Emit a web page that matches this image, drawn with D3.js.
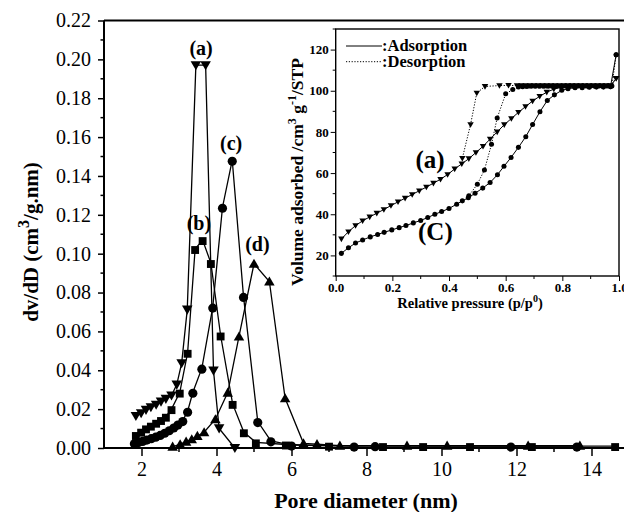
<!DOCTYPE html>
<html><head><meta charset="utf-8">
<script src="https://cdn.jsdelivr.net/npm/d3@7"></script>
<style>body{margin:0;background:#fff}svg{display:block}text{font-family:"Liberation Serif","Times New Roman",serif;fill:#000}</style>
</head><body><svg id="c" width="624" height="512"></svg>
<script>
// ---- main chart data: pore size distribution (x = pore diameter nm, y = dv/dD)
const seriesA = [[1.85,0.0165],[1.99,0.0179],[2.12,0.0196],[2.25,0.021],[2.39,0.0223],[2.52,0.0239],[2.65,0.0253],[2.80,0.027],[2.94,0.0326],[3.07,0.0436],[3.22,0.0712],[3.45,0.197],[3.71,0.197],[3.92,0.0398],[4.07,0.0101],[4.49,0.0]];
const seriesB = [[1.85,0.0067],[1.99,0.0084],[2.12,0.0101],[2.25,0.0115],[2.39,0.013],[2.52,0.0144],[2.65,0.0161],[2.80,0.020],[3.02,0.0285],[3.23,0.049],[3.43,0.1024],[3.63,0.107],[3.85,0.0952],[4.11,0.0579],[4.43,0.0227],[4.73,0.0081],[5.05,0.0029],[5.85,0.0018],[7.0,0.0012],[8.44,0.0010],[9.51,0.0010],[10.76,0.0010],[12.41,0.0010],[14.63,0.0010]];
const seriesC = [[1.81,0.0027],[1.92,0.0033],[2.03,0.0039],[2.14,0.0046],[2.26,0.0053],[2.38,0.0061],[2.50,0.007],[2.62,0.0081],[2.74,0.0094],[2.86,0.0108],[2.97,0.0123],[3.10,0.0141],[3.23,0.0189],[3.37,0.0287],[3.61,0.0411],[3.90,0.0725],[4.16,0.1239],[4.42,0.1481],[4.72,0.078],[5.10,0.0136],[5.45,0.0037],[6.0,0.0015],[7.67,0.0010],[8.23,0.0012],[11.85,0.0010],[13.61,0.0010]];
const seriesD = [[2.83,0.0007],[3.03,0.0019],[3.19,0.0033],[3.34,0.0045],[3.49,0.0062],[3.67,0.0081],[3.97,0.0148],[4.30,0.0285],[4.60,0.0574],[5.00,0.0948],[5.41,0.0857],[5.83,0.0256],[6.32,0.0024],[6.68,0.0020],[7.29,0.0012],[9.08,0.0012],[10.15,0.0012],[12.31,0.0012],[13.69,0.0012]];
const mainXTicks = [2,4,6,8,10,12,14];
const mainYTicks = [0,0.02,0.04,0.06,0.08,0.10,0.12,0.14,0.16,0.18,0.20,0.22];
const seriesLabels = [["(a)",3.59,0.2023],["(b)",3.53,0.112],["(c)",4.39,0.1534],["(d)",5.09,0.1014]];

// ---- inset data: N2 isotherms (x = p/p0, y = volume adsorbed)
const insetAAds = [[0.02,28],[0.045,31.5],[0.07,34.5],[0.095,36.8],[0.12,38.7],[0.145,40.5],[0.17,42.3],[0.195,44.2],[0.22,46],[0.245,47.8],[0.27,49.6],[0.295,51.4],[0.32,53.2],[0.345,55.1],[0.37,57],[0.395,59.3],[0.42,62],[0.445,64.5],[0.47,67],[0.495,70],[0.52,73],[0.545,76.5],[0.57,80],[0.595,83.5],[0.62,86.5],[0.645,89.5],[0.67,92.3],[0.695,95],[0.72,97.3],[0.745,99.3],[0.77,100.8],[0.795,101.7],[0.82,102],[0.845,102],[0.87,102],[0.895,102],[0.92,102],[0.945,102],[0.97,102.2],[0.99,106]];
const insetADes = [[0.99,106],[0.97,102.5],[0.955,102.5],[0.94,102.5],[0.925,102.5],[0.91,102.5],[0.895,102.5],[0.88,102.5],[0.865,102.5],[0.85,102.5],[0.835,102.5],[0.82,102.5],[0.805,102.5],[0.79,102.5],[0.775,102.5],[0.76,102.5],[0.745,102.5],[0.73,102.5],[0.715,102.5],[0.70,102.5],[0.685,102.5],[0.67,102.5],[0.655,102.5],[0.64,102.5],[0.61,102.6],[0.578,102.5],[0.527,102.1],[0.498,98.9],[0.476,83.6],[0.447,67.2]];
const insetCAds = [[0.02,21],[0.045,23.7],[0.07,26],[0.095,27.5],[0.122,29],[0.148,30.2],[0.171,31.2],[0.198,32.4],[0.224,33.5],[0.248,34.5],[0.274,35.8],[0.30,37],[0.325,38.4],[0.35,40],[0.374,41.3],[0.40,42.8],[0.427,44.9],[0.447,46.5],[0.468,48],[0.492,50.2],[0.519,52.7],[0.545,55.4],[0.571,59.2],[0.594,63.3],[0.619,67.6],[0.645,72.5],[0.671,77.7],[0.695,83.6],[0.721,89.8],[0.747,95.3],[0.772,98],[0.798,100.2],[0.82,101],[0.845,101.5],[0.87,101.5],[0.895,101.7],[0.92,101.8],[0.945,101.8],[0.97,102],[0.99,117.5]];
const insetCDes = [[0.99,117.5],[0.975,102.3],[0.96,102.3],[0.945,102.3],[0.93,102.3],[0.915,102.3],[0.90,102.3],[0.885,102.3],[0.87,102.3],[0.855,102.3],[0.84,102.3],[0.825,102.3],[0.81,102.3],[0.795,102.2],[0.78,102.2],[0.765,102.2],[0.75,102.2],[0.735,102.2],[0.72,102.2],[0.705,102.2],[0.69,102.2],[0.675,102.1],[0.66,102],[0.645,101.8],[0.625,100.6],[0.60,98.5],[0.57,86.8],[0.55,74],[0.525,61.5],[0.50,54.6],[0.47,49]];
const insetXTicks = [0.0,0.2,0.4,0.6,0.8,1.0];
const insetYTicks = [20,40,60,80,100,120];
const legendItems = [[":Adsorption",null],[":Desorption","1.2,1.6"]];
const insetLabels = [["(a)",0.333,62.5],["(C)",0.352,27.5]];

const svg = d3.select("#c");
const FONT = '"Liberation Serif","Times New Roman",serif';

// ---------- main chart ----------
const x = d3.scaleLinear().domain([1,15]).range([104,629]);
const y = d3.scaleLinear().domain([0,0.22]).range([448,20.5]);

const gm = svg.append("g");
gm.append("line").attr("x1",104).attr("x2",624).attr("y1",y(0.22)).attr("y2",y(0.22)).attr("stroke","#000").attr("stroke-width",2);

const line = d3.line().x(d=>x(d[0])).y(d=>y(d[1]));
const sym = (type,size)=>d3.symbol().type(type).size(size)();
const seriesDefs = [
  [seriesA, sym(d3.symbolTriangle,48), 180],
  [seriesB, sym(d3.symbolSquare,62), 0],
  [seriesC, sym(d3.symbolCircle,66), 0],
  [seriesD, sym(d3.symbolTriangle,48), 0]
];
seriesDefs.forEach(([data,path,rot])=>{
  gm.append("path").datum(data).attr("d",line).attr("fill","none").attr("stroke","#000").attr("stroke-width",1.3);
  gm.selectAll(null).data(data).enter().append("path")
    .attr("d",path)
    .attr("transform",d=>`translate(${x(d[0])},${y(d[1])+(rot?-1:1)}) rotate(${rot})`)
    .attr("fill","#000");
});

// axes
const xAxis = d3.axisBottom(x).tickValues(mainXTicks).tickSize(8).tickFormat(d3.format("d"));
const gx = gm.append("g").attr("transform","translate(0,448)").call(xAxis);
gx.select(".domain").attr("stroke-width",2).attr("d","M104,0H624");
gx.selectAll(".tick line").attr("stroke-width",1.5);
gx.selectAll(".tick text").attr("font-family",FONT).attr("font-size",20).attr("dy","0.9em").attr("y",10);
d3.range(3,15,2).forEach(v=>gx.append("line").attr("x1",x(v)).attr("x2",x(v)).attr("y1",0).attr("y2",4).attr("stroke","#000").attr("stroke-width",1.5));

const yAxis = d3.axisLeft(y).tickValues(mainYTicks).tickSize(6).tickFormat(d3.format(".2f"));
const gy = gm.append("g").attr("transform","translate(104,0)").call(yAxis);
gy.select(".domain").attr("stroke-width",2).attr("d",`M0,${y(0)}V${y(0.22)}`);
gy.selectAll(".tick line").attr("stroke-width",1.5);
gy.selectAll(".tick text").attr("font-family",FONT).attr("font-size",20).attr("x",-13);
d3.range(0.01,0.22,0.02).forEach(v=>gy.append("line").attr("x1",0).attr("x2",-3.5).attr("y1",y(v)).attr("y2",y(v)).attr("stroke","#000").attr("stroke-width",1.5));

// series labels
gm.selectAll(null).data(seriesLabels).enter().append("text")
  .attr("x",d=>x(d[1])).attr("y",d=>y(d[2])).attr("text-anchor","middle")
  .attr("font-size",20).attr("font-weight","bold").text(d=>d[0]);

// axis titles
const yt = gm.append("text").attr("transform","translate(38,242) rotate(-90)").attr("text-anchor","middle").attr("font-size",21).attr("font-weight","bold");
yt.append("tspan").text("dv/dD (cm");
yt.append("tspan").attr("font-size",16).attr("dy",-9).text("3");
yt.append("tspan").attr("dy",9).text("/g.nm)");
gm.append("text").attr("x",366).attr("y",508).attr("text-anchor","middle").attr("font-size",22).attr("font-weight","bold").text("Pore diameter (nm)");

// ---------- inset ----------
const ix = d3.scaleLinear().domain([0,1]).range([335.7,619]);
const iy = d3.scaleLinear().domain([10,130]).range([276,29]);
const gi = svg.append("g");
gi.append("rect").attr("x",ix(0)).attr("y",iy(130)).attr("width",ix(1)-ix(0)).attr("height",iy(10)-iy(130)).attr("fill","#fff").attr("stroke","#000").attr("stroke-width",1.4);

const iline = d3.line().x(d=>ix(d[0])).y(d=>iy(d[1]));
const insetDefs = [
  [insetADes, "1.2,1.6", sym(d3.symbolTriangle,18), 180],
  [insetCDes, "1.2,1.6", sym(d3.symbolCircle,20), 0],
  [insetAAds, null, sym(d3.symbolTriangle,18), 180],
  [insetCAds, null, sym(d3.symbolCircle,20), 0]
];
insetDefs.forEach(([data,dash,path,rot])=>{
  const p = gi.append("path").datum(data).attr("d",iline).attr("fill","none").attr("stroke","#000").attr("stroke-width",1);
  if(dash) p.attr("stroke-dasharray",dash);
  gi.selectAll(null).data(data).enter().append("path").attr("d",path)
    .attr("transform",d=>`translate(${ix(d[0])},${iy(d[1])+(rot?-0.5:0)}) rotate(${rot})`).attr("fill","#000");
});

const ixAxis = d3.axisBottom(ix).tickValues(insetXTicks).tickSize(5).tickFormat(d3.format(".1f"));
const gix = gi.append("g").attr("transform",`translate(0,${iy(10)})`).call(ixAxis);
gix.select(".domain").remove();
gix.selectAll(".tick text").attr("font-family",FONT).attr("font-size",13).attr("font-weight","bold").attr("y",7);
d3.range(0.1,1,0.2).forEach(v=>gix.append("line").attr("x1",ix(v)).attr("x2",ix(v)).attr("y1",0).attr("y2",3).attr("stroke","#000"));
const iyAxis = d3.axisLeft(iy).tickValues(insetYTicks).tickSize(5).tickFormat(d3.format("d"));
const giy = gi.append("g").attr("transform",`translate(${ix(0)},0)`).call(iyAxis);
giy.select(".domain").remove();
giy.selectAll(".tick text").attr("font-family",FONT).attr("font-size",13).attr("font-weight","bold").attr("x",-7);
d3.range(10,131,20).forEach(v=>giy.append("line").attr("x1",0).attr("x2",-3).attr("y1",iy(v)).attr("y2",iy(v)).attr("stroke","#000"));

// inset titles
gi.append("text").attr("x",470).attr("y",308).attr("text-anchor","middle").attr("font-size",14.5).attr("font-weight","bold")
  .call(t=>{t.append("tspan").text("Relative pressure (p/p");t.append("tspan").attr("font-size",10).attr("dy",-6).text("0");t.append("tspan").attr("dy",6).text(")");});
const iyt = gi.append("text").attr("transform","translate(303,172) rotate(-90)").attr("text-anchor","middle").attr("font-size",17.5).attr("font-weight","bold");
iyt.append("tspan").text("Volume adsorbed /cm");
iyt.append("tspan").attr("font-size",12).attr("dy",-7).text("3");
iyt.append("tspan").attr("dy",7).text(" g");
iyt.append("tspan").attr("font-size",12).attr("dy",-7).text("-1");
iyt.append("tspan").attr("dy",7).text("/STP");

// legend
legendItems.forEach(([label,dash],i)=>{
  const yy = 46 + i*15.7;
  const l = gi.append("line").attr("x1",346).attr("x2",382).attr("y1",yy).attr("y2",yy).attr("stroke","#000").attr("stroke-width",1);
  if(dash) l.attr("stroke-dasharray",dash);
  gi.append("text").attr("x",382).attr("y",yy+5).attr("font-size",16.5).attr("font-weight","bold").text(label);
});

// inset sample labels
gi.selectAll(null).data(insetLabels).enter().append("text")
  .attr("x",d=>ix(d[1])).attr("y",d=>iy(d[2])).attr("text-anchor","middle")
  .attr("font-size",25).attr("font-weight","bold").text(d=>d[0]);
</script></body></html>
